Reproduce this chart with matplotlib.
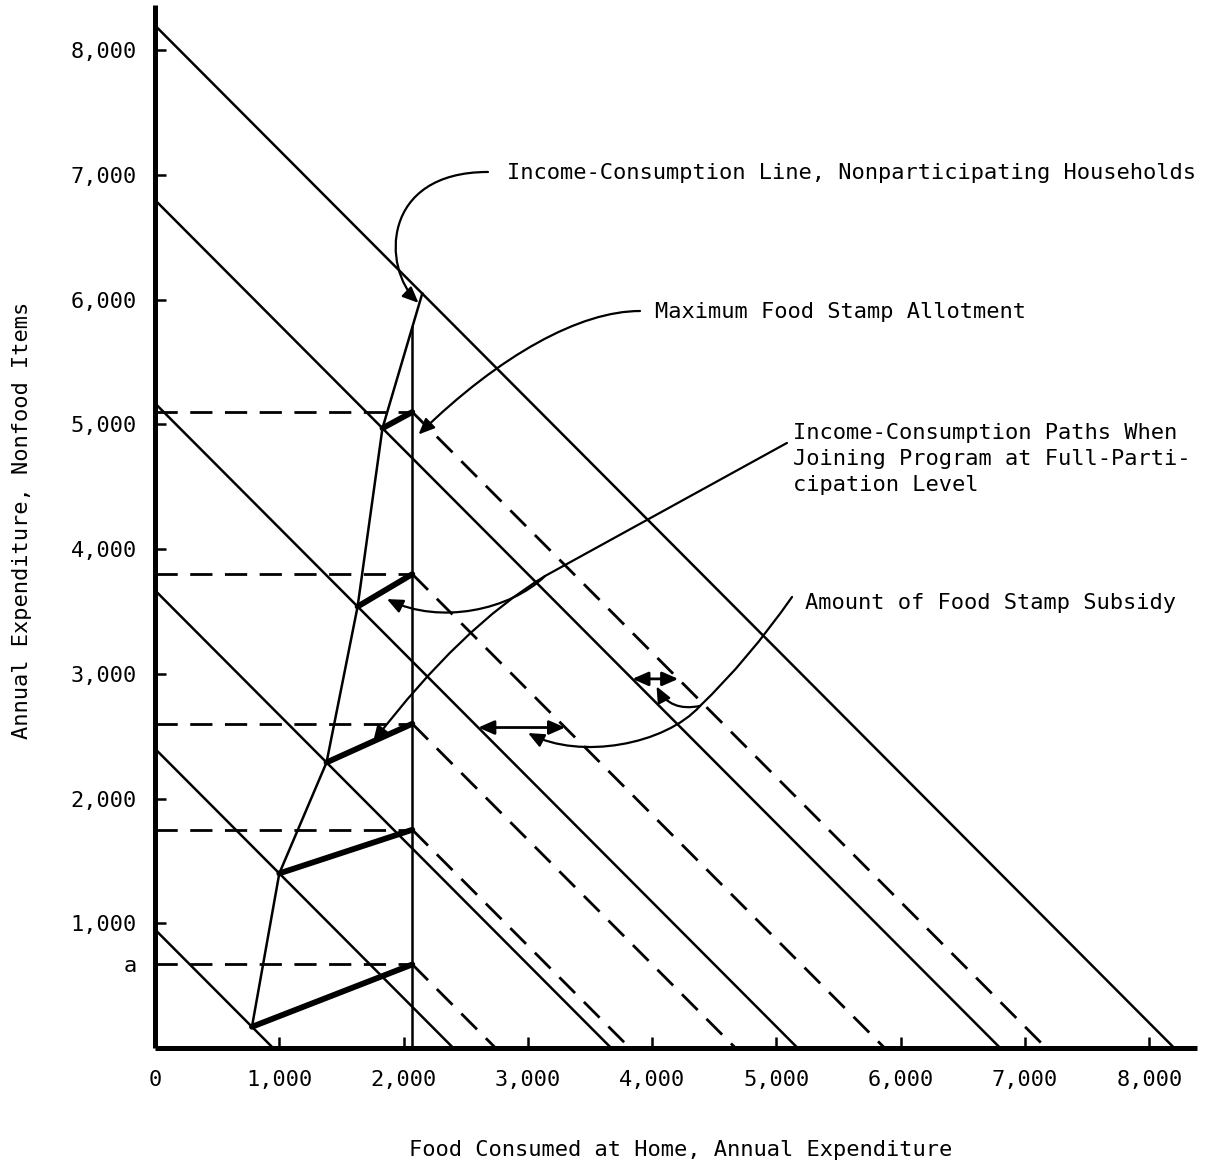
import numpy as np
import matplotlib
matplotlib.use('Agg')
import matplotlib.pyplot as plt
from matplotlib.patches import FancyArrowPatch
from matplotlib.path import Path

# ---------------- data ----------------
budget_intercepts = [950, 2400, 3670, 5170, 6800, 8200]          # solid budget lines
icl_food = [780, 1000, 1380, 1630, 1830, 2150]                    # income-consumption line
icl_nonfood = [170, 1400, 2290, 3540, 4970, 6050]
max_allotment_food = 2070                                         # vertical line
participant_levels = [670, 1750, 2600, 3800, 5100]                # kink levels (dashed)
subsidy_y = [2570, 2960]                                          # double arrows
subsidy_solid = [5170, 6800]
subsidy_dashed_idx = [3, 4]

x_ticks = [0, 1000, 2000, 3000, 4000, 5000, 6000, 7000, 8000]
x_labels = ['0', '1,000', '2,000', '3,000', '4,000', '5,000', '6,000', '7,000', '8,000']
y_ticks = [670, 1000, 2000, 3000, 4000, 5000, 6000, 7000, 8000]
y_labels = ['a', '1,000', '2,000', '3,000', '4,000', '5,000', '6,000', '7,000', '8,000']

FONT = 'DejaVu Sans Mono'
FS = 15.8
plt.rcParams['font.family'] = [FONT, 'DejaVu Sans']

W, H = 1227, 1167
fig = plt.figure(figsize=(W / 100, H / 100), dpi=100)
ax = fig.add_axes([155 / W, (H - 1048) / H, (1197 - 155) / W, (1048 - 5) / H])
ax.set_xlim(0, 8383)
ax.set_ylim(0, 8364)

for s in ['top', 'right']:
    ax.spines[s].set_visible(False)
for s in ['left', 'bottom']:
    ax.spines[s].set_linewidth(3.6)
    ax.spines[s].set_capstyle('butt')

K = 'black'
# solid budget lines
for b in budget_intercepts:
    ax.plot([0, b], [b, 0], color=K, lw=1.8, solid_capstyle='butt')

# income-consumption line (nonparticipants)
ax.plot(icl_food, icl_nonfood, color=K, lw=1.8)

# vertical max allotment line up to the income-consumption line
top_v = np.interp(max_allotment_food, icl_food, icl_nonfood)
ax.plot([max_allotment_food, max_allotment_food], [0, top_v], color=K, lw=1.8)

dash = (0, (8, 4.5))
for i, lvl in enumerate(participant_levels):
    # horizontal dashed
    ax.plot([0, max_allotment_food], [lvl, lvl], color=K, lw=2.0, linestyle=dash)
    # diagonal dashed
    ax.plot([max_allotment_food, max_allotment_food + lvl], [lvl, 0],
            color=K, lw=2.0, linestyle=dash)
    # thick participation path
    ax.plot([icl_food[i], max_allotment_food], [icl_nonfood[i], lvl],
            color=K, lw=4.2, solid_capstyle='round')

# subsidy double arrows
for yv, sb, di in zip(subsidy_y, subsidy_solid, subsidy_dashed_idx):
    x0 = sb - yv
    x1 = participant_levels[di] + max_allotment_food - yv
    ax.add_patch(FancyArrowPatch((x0, yv), (x1, yv),
                                 arrowstyle='<|-|>,head_length=0.8,head_width=0.35',
                                 mutation_scale=12, lw=2.0, color=K,
                                 shrinkA=0, shrinkB=0))

# ticks
ax.set_xticks(x_ticks)
ax.set_xticklabels(x_labels, fontsize=FS, family=FONT)
ax.set_yticks(y_ticks)
ax.set_yticklabels(y_labels, fontsize=FS, family=FONT)
ax.tick_params(axis='both', direction='in', length=8, width=1.8)
ax.tick_params(axis='x', pad=16)
ax.tick_params(axis='y', pad=13)
ax.xaxis.get_major_ticks()[0].tick1line.set_visible(False)
ax.yaxis.get_major_ticks()[0].tick1line.set_visible(False)

# axis titles
fig.text(681 / W, 1 - 1150 / H, 'Food Consumed at Home, Annual Expenditure',
         ha='center', va='center', fontsize=FS, family=FONT)
fig.text(22 / W, 1 - 520 / H, 'Annual Expenditure, Nonfood Items', rotation=90,
         ha='center', va='center', fontsize=FS, family=FONT)

# ---------------- annotations ----------------
def arrow_path(verts, codes, head=True):
    style = '-|>,head_length=0.8,head_width=0.35' if head else '-'
    p = FancyArrowPatch(path=Path(verts, codes), arrowstyle=style,
                        mutation_scale=12, lw=1.6, color=K,
                        transform=ax.transData)
    ax.add_patch(p)

M, L3, C3, C4 = Path.MOVETO, Path.LINETO, Path.CURVE3, Path.CURVE4

# 1. Income-consumption line, nonparticipating
ax.text(2832, 7017, 'Income-Consumption Line, Nonparticipating Households',
        fontsize=FS, family=FONT, va='center', ha='left')
arrow_path([(2679, 7025), (1810, 7025), (1830, 6250), (2120, 5975)], [M, C4, C4, C4])

# 2. Maximum food stamp allotment
ax.text(4022, 5902, 'Maximum Food Stamp Allotment', fontsize=FS, family=FONT,
        va='center', ha='left')
arrow_path([(3902, 5910), (3419, 5910), (2776, 5557), (2120, 4920)], [M, C4, C4, C4])

# 3. Income-consumption paths when joining
ax.text(5133, 5010, 'Income-Consumption Paths When\nJoining Program at Full-Parti-\ncipation Level',
        fontsize=FS, family=FONT, va='top', ha='left', linespacing=1.38)
arrow_path([(5084, 4852), (3138, 3785), (2462, 3376), (1754, 2454)], [M, L3, C3, C3])
arrow_path([(3138, 3785), (2856, 3512), (2293, 3392), (1866, 3600)], [M, C4, C4, C4])

# 4. Amount of food stamp subsidy
ax.text(5229, 3569, 'Amount of Food Stamp Subsidy', fontsize=FS, family=FONT,
        va='center', ha='left')
arrow_path([(5125, 3617), (4771, 3111), (4385, 2743)], [M, C3, C3], head=False)
arrow_path([(4385, 2743), (4143, 2694), (4035, 2900)], [M, C3, C3])
arrow_path([(4385, 2743), (4103, 2430), (3419, 2310), (3001, 2526)], [M, C4, C4, C4])

fig.savefig('out.png', dpi=100)
